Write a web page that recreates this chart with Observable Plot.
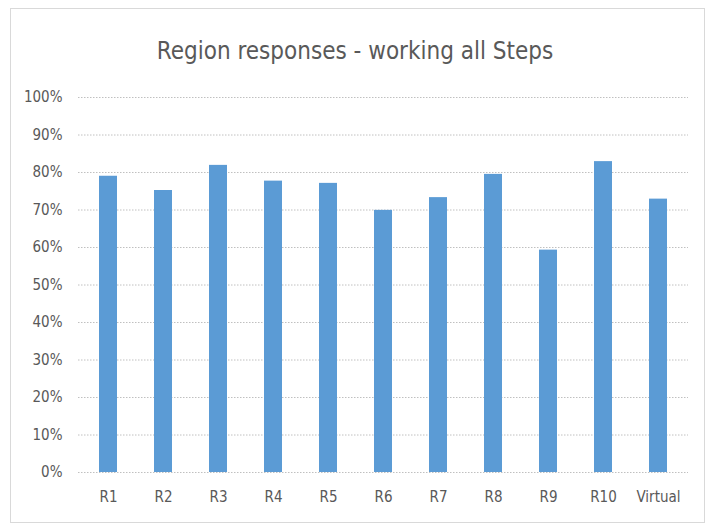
<!DOCTYPE html>
<html><head><meta charset="utf-8">
<script src="https://cdn.jsdelivr.net/npm/d3@7"></script>
<script src="https://cdn.jsdelivr.net/npm/@observablehq/plot@0.6"></script>
<style>
body{margin:0;background:#fff;}
#wrap{position:relative;width:710px;height:525px;overflow:hidden;font-family:"Liberation Sans Narrow","DejaVu Sans Condensed",sans-serif;}
#frame{position:absolute;left:10px;top:8px;width:695px;height:515px;border:1px solid #d9d9d9;box-sizing:border-box;}
#title{position:absolute;left:0;top:36px;width:710px;text-align:center;font-size:24px;line-height:30px;color:#595959;}
#chart{position:absolute;left:0;top:0;}
</style></head><body>
<div id="wrap"><div id="frame"></div><div id="title">Region responses - working all Steps</div><div id="chart"></div></div>
<script>
const regions = ["R1","R2","R3","R4","R5","R6","R7","R8","R9","R10","Virtual"];
const shares = [0.790,0.752,0.819,0.777,0.771,0.699,0.733,0.795,0.593,0.829,0.729];
const yTicks = [0,0.1,0.2,0.3,0.4,0.5,0.6,0.7,0.8,0.9,1];
const data = regions.map((r,i)=>({region:r, share:shares[i]}));
const chart = Plot.plot({
  width:710, height:525,
  marginLeft:78, marginRight:22, marginTop:97, marginBottom:53,
  x:{domain:regions, paddingInner:0.68, paddingOuter:0.34, label:null, tickSize:0, tickPadding:19},
  y:{domain:[0,1], ticks:yTicks, tickFormat:d3.format(".0%"), label:null, tickSize:0, tickPadding:16},
  style:{fontFamily:'"Liberation Sans Narrow","DejaVu Sans Condensed",sans-serif', fontSize:"15px", color:"#595959", background:"transparent"},
  marks:[
    Plot.ruleY(yTicks,{stroke:"#c0c0c0", strokeDasharray:"1.5,1.5"}),
    Plot.barY(data,{x:"region", y:"share", fill:"#5b9bd5"})
  ]
});
document.getElementById("chart").appendChild(chart);
</script>
</body></html>
